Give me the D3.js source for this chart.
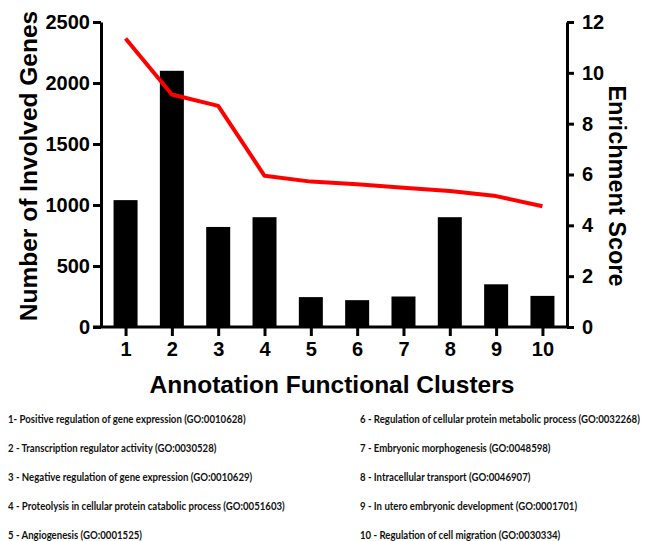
<!DOCTYPE html>
<meta charset="utf-8">
<title>Annotation Functional Clusters</title>
<style>
  body { margin: 0; background: #fff; }
  svg text { font-family: "Liberation Sans", Arial, sans-serif; }
  .legend text { font-family: Lato, "Open Sans", sans-serif; }
</style>
<body>
<div id="chart"></div>
<script src="https://cdn.jsdelivr.net/npm/d3@7"></script>
<script>

// clusters on the x axis
var clusters = ["1", "2", "3", "4", "5", "6", "7", "8", "9", "10"];
// number of involved genes (bars, left axis)
var genes = [1040, 2100, 820, 900, 245, 220, 250, 900, 350, 255];
// enrichment score (red line, right axis)
var enrichment = [11.35, 9.15, 8.7, 5.95, 5.72, 5.62, 5.48, 5.35, 5.15, 4.75];
var geneTicks = [0, 500, 1000, 1500, 2000, 2500];
var scoreTicks = [0, 2, 4, 6, 8, 10, 12];

// legend under the chart
var legendLeft = [
  "1- Positive regulation of gene expression (GO:0010628)",
  "2 - Transcription regulator activity  (GO:0030528)",
  "3 - Negative regulation of gene expression (GO:0010629)",
  "4 - Proteolysis in cellular protein catabolic process (GO:0051603)",
  "5 - Angiogenesis (GO:0001525)"
];
var legendRight = [
  "6 - Regulation of cellular protein metabolic process (GO:0032268)",
  "7 - Embryonic morphogenesis (GO:0048598)",
  "8 - Intracellular transport (GO:0046907)",
  "9 - In utero embryonic development (GO:0001701)",
  "10 - Regulation of cell migration (GO:0030334)"
];

var W = 646, H = 541;
// plot box (note: "top" is reserved by window, so use plotTop)
var plotLeft = 101, plotRight = 567, plotTop = 22, plotBottom = 327;

var svg = d3.select("#chart").append("svg")
    .attr("width", W)
    .attr("height", H);

var x = d3.scalePoint()
    .domain(clusters)
    .range([plotLeft, plotRight])
    .padding(0.53);

var yGenes = d3.scaleLinear()
    .domain([0, 2500])
    .range([plotBottom, plotTop]);

var yScore = d3.scaleLinear()
    .domain([0, 12])
    .range([plotBottom, plotTop]);

// bars
svg.append("g")
  .selectAll("rect")
  .data(genes)
  .enter().append("rect")
    .attr("x", function(d, i) { return x(clusters[i]) - 12; })
    .attr("y", function(d) { return yGenes(d); })
    .attr("width", 24)
    .attr("height", function(d) { return plotBottom - yGenes(d); })
    .attr("fill", "#000");

// enrichment line
var line = d3.line()
    .x(function(d, i) { return x(clusters[i]); })
    .y(function(d) { return yScore(d); });

svg.append("path")
    .datum(enrichment)
    .attr("d", line)
    .attr("fill", "none")
    .attr("stroke", "#ff0000")
    .attr("stroke-width", 4)
    .attr("stroke-linejoin", "round");

function styleAxis(g) {
  g.selectAll("path, line").attr("stroke", "#000").attr("stroke-width", 3);
  g.selectAll("text")
    .attr("fill", "#000")
    .style("font-size", "20px")
    .style("font-weight", "bold");
}

// x axis
svg.append("g")
    .attr("transform", "translate(0," + plotBottom + ")")
    .call(d3.axisBottom(x).tickSize(9).tickSizeOuter(0).tickPadding(6))
    .call(styleAxis)
    .select(".domain").attr("d", "M" + (plotLeft - 8) + ",0H" + plotRight);

// left axis
svg.append("g")
    .attr("transform", "translate(" + plotLeft + ",0)")
    .call(d3.axisLeft(yGenes).tickValues(geneTicks).tickFormat(d3.format("d"))
      .tickSize(8).tickSizeOuter(0).tickPadding(3))
    .call(styleAxis);

// right axis
svg.append("g")
    .attr("transform", "translate(" + plotRight + ",0)")
    .call(d3.axisRight(yScore).tickValues(scoreTicks).tickFormat(d3.format("d"))
      .tickSize(7).tickSizeOuter(0).tickPadding(8))
    .call(styleAxis);

// axis titles
svg.append("text")
    .attr("transform", "translate(37,166) rotate(-90)")
    .attr("text-anchor", "middle")
    .style("font-size", "24.5px")
    .style("font-weight", "bold")
    .text("Number of Involved Genes");

svg.append("text")
    .attr("transform", "translate(609,186) rotate(90)")
    .attr("text-anchor", "middle")
    .style("font-size", "23.5px")
    .style("font-weight", "bold")
    .text("Enrichment Score");

svg.append("text")
    .attr("x", 332)
    .attr("y", 393)
    .attr("text-anchor", "middle")
    .style("font-size", "24.5px")
    .style("font-weight", "bold")
    .text("Annotation Functional Clusters");

// legend (narrow font squeezed horizontally)
var legend = svg.append("g").attr("class", "legend");

function legendColumn(items, x0, cls) {
  legend.selectAll("text." + cls)
    .data(items)
    .enter().append("text")
      .attr("class", cls)
      .attr("transform", function(d, i) {
        return "translate(" + x0 + "," + (423 + i * 29) + ") scale(0.875,1.05)";
      })
      .style("font-size", "11px")
      .style("font-weight", "bold")
      .attr("fill", "#111")
      .text(function(d) { return d; });
}
legendColumn(legendLeft, 8, "l");
legendColumn(legendRight, 360, "r");

</script>
</body>
